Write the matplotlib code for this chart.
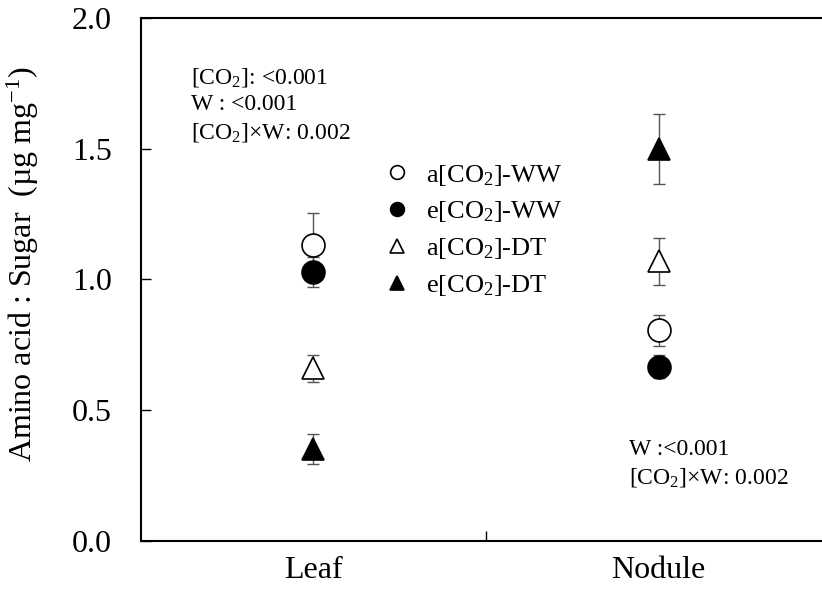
import numpy as np
import matplotlib
matplotlib.use("Agg")
import matplotlib.pyplot as plt

plt.rcParams['font.family'] = ['Liberation Serif', 'DejaVu Serif']
plt.rcParams['mathtext.fontset'] = 'custom'
plt.rcParams['mathtext.rm'] = 'Liberation Serif'
plt.rcParams['mathtext.it'] = 'Liberation Serif:italic'

# data
organs = ['Leaf', 'Nodule']
labels = ['a[CO$_2$]-WW', 'e[CO$_2$]-WW', 'a[CO$_2$]-DT', 'e[CO$_2$]-DT']
aWW = [1.13, 0.805]
aWW_se = [0.126, 0.06]
eWW = [1.03, 0.667]
eWW_se = [0.057, 0.045]
aDT = [0.66, 1.07]
aDT_se = [0.053, 0.09]
eDT = [0.352, 1.499]
eDT_se = [0.058, 0.134]

fig = plt.figure(figsize=(8.22, 5.96), dpi=100)
ax = fig.add_axes([0.1715, 0.0923, 0.8395, 0.8775])

x = np.array([0.5, 1.5])
series = [(aWW, aWW_se, 'o', 'white'),
          (eWW, eWW_se, 'o', 'black'),
          (aDT, aDT_se, '^', 'white'),
          (eDT, eDT_se, '^', 'black')]
handles = []
for (y, e, m, fc), lab in zip(series, labels):
    ax.errorbar(x, y, yerr=e, fmt='none', ecolor='#555555', elinewidth=1.0,
                capsize=4.5, capthick=1.0, zorder=2)
    h, = ax.plot(x, y, m, ms=16.5, mfc=fc, mec='black', mew=1.2,
                 ls='none', zorder=3, label=lab)
    handles.append(h)

ax.set_xlim(0, 2)
ax.set_ylim(0, 2.0)
ax.set_yticks([0, 0.5, 1.0, 1.5, 2.0])
ax.set_yticklabels(['0.0', '0.5', '1.0', '1.5', '2.0'])
ax.set_xticks([1.0])
ax.set_xticklabels([''])
ax.set_xticks(x, minor=True)
ax.set_xticklabels(organs, minor=True)
ax.tick_params(axis='x', which='minor', length=0, pad=11, labelsize=23)
ax.tick_params(axis='x', which='major', direction='in', length=7, width=1)
ax.tick_params(axis='y', direction='in', length=7, width=1, pad=21, labelsize=23)
ax.spines['right'].set_visible(False)
for s in ['left', 'top', 'bottom']:
    ax.spines[s].set_linewidth(1.5)

ax.set_ylabel('Amino acid : Sugar  (µg mg$^{-1}$)', fontsize=23)
ax.yaxis.set_label_coords(-0.145, 0.53)

ax.legend(handles=handles, loc='upper left', bbox_to_anchor=(0.317, 0.769),
          frameon=False, fontsize=19, markerscale=0.6, handlelength=1.0,
          handletextpad=0.6, labelspacing=0.45)

ax.text(0.072, 0.909, '[CO$_2$]: <0.001\nW : <0.001\n[CO$_2$]×W: 0.002',
        transform=ax.transAxes, fontsize=17, va='top', ha='left',
        linespacing=1.35)
ax.text(0.707, 0.195, 'W :<0.001\n[CO$_2$]×W: 0.002',
        transform=ax.transAxes, fontsize=17, va='top', ha='left',
        linespacing=1.35)

fig.savefig('out.png', dpi=100)
